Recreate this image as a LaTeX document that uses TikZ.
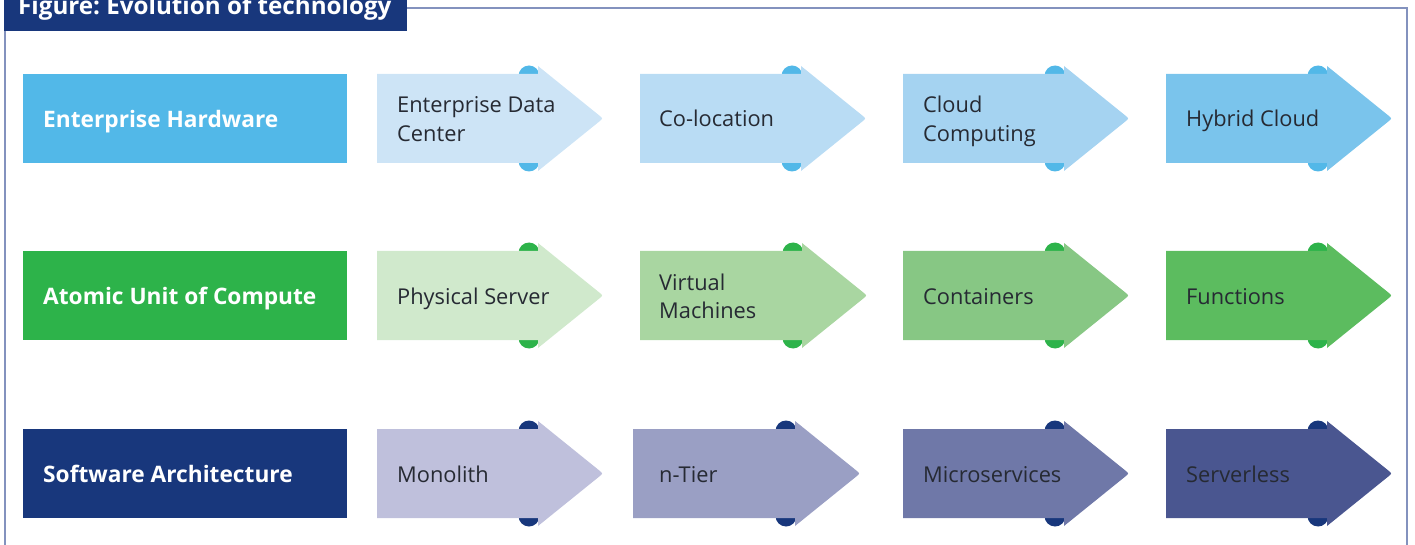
\documentclass[tikz,border=0pt]{standalone}
\usepackage{fontspec}
\setmainfont{Open Sans}
\usetikzlibrary{calc}
\frenchspacing

\definecolor{navy}{HTML}{18377C}
\definecolor{framec}{HTML}{8392BE}
\definecolor{stepink}{HTML}{262A33}
% row 1: hardware
\definecolor{hwA}{HTML}{52B8E8}
\definecolor{hw1}{HTML}{CDE4F6}
\definecolor{hw2}{HTML}{B9DCF4}
\definecolor{hw3}{HTML}{A5D3F1}
\definecolor{hw4}{HTML}{7AC4EC}
% row 2: compute
\definecolor{cuA}{HTML}{2DB34A}
\definecolor{cu1}{HTML}{D0E9CC}
\definecolor{cu2}{HTML}{A9D6A1}
\definecolor{cu3}{HTML}{87C784}
\definecolor{cu4}{HTML}{5CBC5F}
% row 3: software
\definecolor{swA}{HTML}{18377C}
\definecolor{sw1}{HTML}{BFC0DC}
\definecolor{sw2}{HTML}{9A9FC4}
\definecolor{sw3}{HTML}{6F78A8}
\definecolor{sw4}{HTML}{4A5690}

\tikzset{
  rowlabel/.style={anchor=base west, text=white, inner sep=0pt,
    font=\fontsize{22.7}{26}\selectfont\bfseries},
  steptext/.style={anchor=base west, align=left, text=stepink, inner sep=0pt,
    font=\fontsize{21.8}{28.5}\selectfont},
  titletext/.style={anchor=base west, text=white, inner sep=0pt,
    font=\fontsize{24.2}{28}\selectfont\bfseries},
}

% chevron step: #1 left x, #2 tip x, #3 top y, #4 bottom y, #5 fill, #6 accent
\newcommand\evostep[6]{%
  \pgfmathsetmacro\xb{#2-65}%
  \pgfmathsetmacro\ym{(#3+#4)/2}%
  \fill[#6] (\xb-9,#3+2) circle[radius=10.5];
  \fill[#6] (\xb-9,#4-2) circle[radius=10.5];
  \fill[#5] (#1,#3) -- (\xb,#3) -- (\xb,#3-8)
    -- ($(#2,\ym)!5pt!(\xb,#3-8)$)
    .. controls (#2,\ym) .. ($(#2,\ym)!5pt!(\xb,#4+8)$)
    -- (\xb,#4+8) -- (\xb,#4) -- (#1,#4) -- cycle;
}

\begin{document}
\begin{tikzpicture}[x=1pt,y=-1pt]
\useasboundingbox (0,0) rectangle (1415,545);

% outer frame and title tab
\draw[framec, line width=1.5pt] (407,8) -- (1407,8) -- (1407,560);
\draw[framec, line width=1.5pt] (5,20) -- (5,560);
\fill[navy] (4,-20) rectangle (407,31);
\node[titletext] (title) at (18,14.5) {Figure: Evolution of technology};

% row labels
\fill[hwA] (23,74) rectangle (347,163);
\node[rowlabel] (lab1) at (43,127.5) {Enterprise Hardware};
\fill[cuA] (23,251) rectangle (347,340);
\node[rowlabel] (lab2) at (43,304.5) {Atomic Unit of Compute};
\fill[swA] (23,429) rectangle (347,518);
\node[rowlabel] (lab3) at (43,482.5) {Software Architecture};

% row 1: enterprise hardware
\evostep{377}{603}{74}{163}{hw1}{hwA}
\evostep{640}{866}{74}{163}{hw2}{hwA}
\evostep{903}{1129}{74}{163}{hw3}{hwA}
\evostep{1166}{1392}{74}{163}{hw4}{hwA}
\node[steptext] (h1) at (397,141.5) {Enterprise Data\\Center};
\node[steptext] (h2) at (659,127) {Co-location};
\node[steptext] (h3) at (923,141.5) {Cloud\\Computing};
\node[steptext] (h4) at (1186,127) {Hybrid Cloud};

% row 2: atomic unit of compute
\evostep{377}{603}{251}{340}{cu1}{cuA}
\evostep{640}{867}{251}{340}{cu2}{cuA}
\evostep{903}{1129}{251}{340}{cu3}{cuA}
\evostep{1166}{1392}{251}{340}{cu4}{cuA}
\node[steptext] (c1) at (397,304) {Physical Server};
\node[steptext] (c2) at (659,318.5) {Virtual\\Machines};
\node[steptext] (c3) at (923,304) {Containers};
\node[steptext] (c4) at (1186,304) {Functions};

% row 3: software architecture
\evostep{377}{603}{429}{518}{sw1}{swA}
\evostep{633}{860}{429}{518}{sw2}{swA}
\evostep{903}{1129}{429}{518}{sw3}{swA}
\evostep{1166}{1392}{429}{518}{sw4}{swA}
\node[steptext] (s1) at (397,482) {Monolith};
\node[steptext] (s2) at (659,482) {n-Tier};
\node[steptext] (s3) at (923,482) {Microservices};
\node[steptext] (s4) at (1186,482) {Serverless};
\end{tikzpicture}
\end{document}
